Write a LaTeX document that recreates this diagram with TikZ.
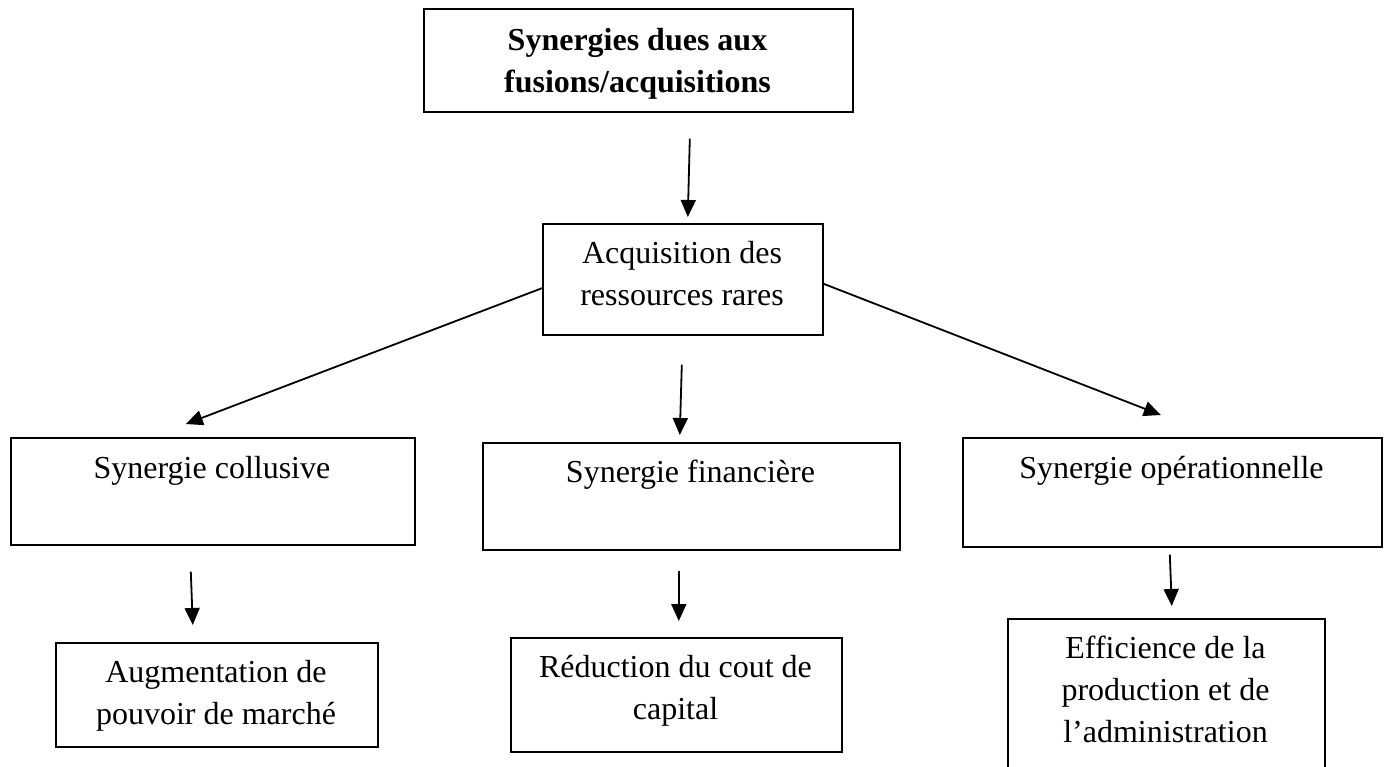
\documentclass[tikz,border=0pt]{standalone}
\usepackage{fontspec}
\setmainfont{Liberation Serif}
\usetikzlibrary{arrows.meta,calc}
\begin{document}
\begin{tikzpicture}[x=1pt,y=-1pt,
  box/.style={draw,line width=1.6pt,inner sep=0pt,anchor=north west},
  txt/.style={inner sep=0pt,anchor=north,align=center,font=\fontsize{32}{42}\selectfont},
  link/.style={line width=1.8pt,-{Triangle[length=17pt,width=15pt]}}]
  \path[fill=white] (0,0) rectangle (1386,767);
  \clip (0,0) rectangle (1386,767);

  % boxes
  \node[box,minimum width=429pt,minimum height=103pt] (top) at (423,8) {};
  \node[box,minimum width=280pt,minimum height=111pt] (acq) at (542,223) {};
  \node[box,minimum width=404pt,minimum height=107pt] (col) at (10,437) {};
  \node[box,minimum width=417pt,minimum height=107pt] (fin) at (482,442) {};
  \node[box,minimum width=419pt,minimum height=109pt] (ope) at (962,437) {};
  \node[box,minimum width=322pt,minimum height=104pt] (aug) at (55,642) {};
  \node[box,minimum width=331pt,minimum height=114pt] (red) at (510,637) {};
  \node[box,minimum width=317pt,minimum height=182pt] (eff) at (1007,618) {};

  % texts
  \node[txt,font=\fontsize{32}{42}\selectfont\bfseries] (toptxt) at (637.5,20.6)
    {\strut Synergies dues aux\\\strut fusions/acquisitions};
  \node[txt] (acqtxt) at (682,233.6) {\strut Acquisition des\\\strut ressources rares};
  \node[txt] (coltxt) at (212,448.6) {\strut Synergie collusive};
  \node[txt] (fintxt) at (690.5,452.6) {\strut Synergie financière};
  \node[txt] (opetxt) at (1171.5,448.6) {\strut Synergie opérationnelle};
  \node[txt] (augtxt) at (216,652.6) {\strut Augmentation de\\\strut pouvoir de marché};
  \node[txt] (redtxt) at (675.5,647.6) {\strut Réduction du cout de\\\strut capital};
  \node[txt] (efftxt) at (1165.5,628.6)
    {\strut Efficience de la\\\strut production et de\\\strut l’administration};

  % connectors
  \draw[link] ($(top.south)+(51.5,26)$) -- ($(acq.north)+(5,-6)$);
  \draw[link] ($(acq.west)+(1,8.5)$) -- ($(col.north)+(-27,-13)$);
  \draw[link] ($(acq.south)+(-1,29)$) -- ($(fin.north)+(-11.5,-7)$);
  \draw[link] ($(acq.east)+(0,4.5)$) -- ($(ope.north)+(-11.5,-22)$);
  \draw[link] ($(col.south)+(-22,26)$) -- ($(aug.north)+(-24,-17)$);
  \draw[link] ($(fin.south)+(-12.5,20)$) -- ($(red.north)+(2.5,-16)$);
  \draw[link] ($(ope.south)+(-2.5,7)$) -- ($(eff.north)+(5.5,-12)$);
\end{tikzpicture}
\end{document}
